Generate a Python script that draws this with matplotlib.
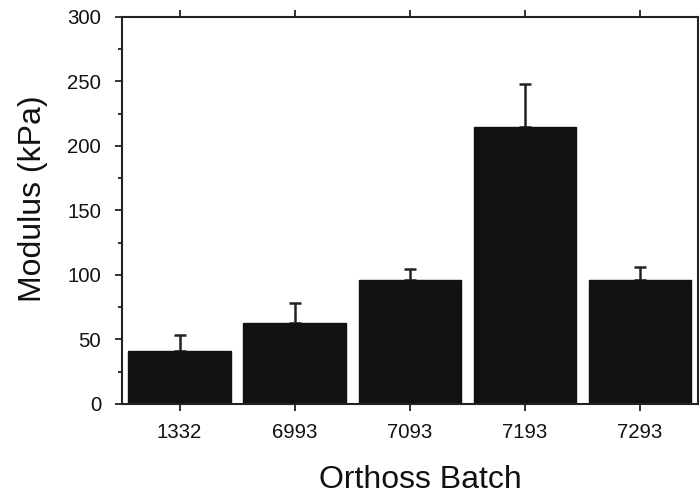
import matplotlib
matplotlib.use("Agg")
import matplotlib.pyplot as plt
from matplotlib.ticker import MultipleLocator

plt.rcParams['font.family'] = ['Liberation Sans', 'DejaVu Sans']

categories = ["1332", "6993", "7093", "7193", "7293"]
modulus = [41, 63, 96, 215, 96.5]
err_up = [12.5, 15.5, 9, 33, 9.5]

fig = plt.figure(figsize=(6.99, 4.94), dpi=100)
ax = fig.add_axes([0.1745, 0.1822, 0.8235, 0.7834])

x = list(range(len(categories)))
ax.bar(x, modulus, width=0.89, color='#111111', edgecolor='#111111', zorder=2)
ax.errorbar(x, modulus, yerr=[[0]*len(err_up), err_up], fmt='none', ecolor='#222222',
            elinewidth=1.8, capsize=4.5, capthick=1.8, zorder=1)

ax.set_xlim(-0.5, 4.5)
ax.set_ylim(0, 300)
ax.set_xticks(x)
ax.set_xticklabels(categories, fontsize=14.7)
ax.yaxis.set_major_locator(MultipleLocator(50))
ax.yaxis.set_minor_locator(MultipleLocator(25))
ax.tick_params(axis='y', which='major', direction='out', length=5, width=1.3, labelsize=14.7, colors='#222222', pad=10)
ax.tick_params(axis='y', which='minor', direction='out', length=3, width=1.3, colors='#222222')
ax.tick_params(axis='x', which='major', direction='out', length=5, width=1.3, labelsize=14.7,
               top=True, colors='#222222', pad=9)
for lbl in ax.get_xticklabels() + ax.get_yticklabels():
    lbl.set_color('#111111')
for s in ax.spines.values():
    s.set_linewidth(1.5)
    s.set_color('#222222')

ax.set_xlabel("Orthoss Batch", fontsize=23, color='#111111')
ax.xaxis.set_label_coords(0.519, -0.1565)
ax.xaxis.label.set_va('top')
ax.set_ylabel("Modulus (kPa)", fontsize=23, color='#111111')
ax.yaxis.set_label_coords(-0.1285, 0.531)

fig.savefig("out.png", dpi=100)
